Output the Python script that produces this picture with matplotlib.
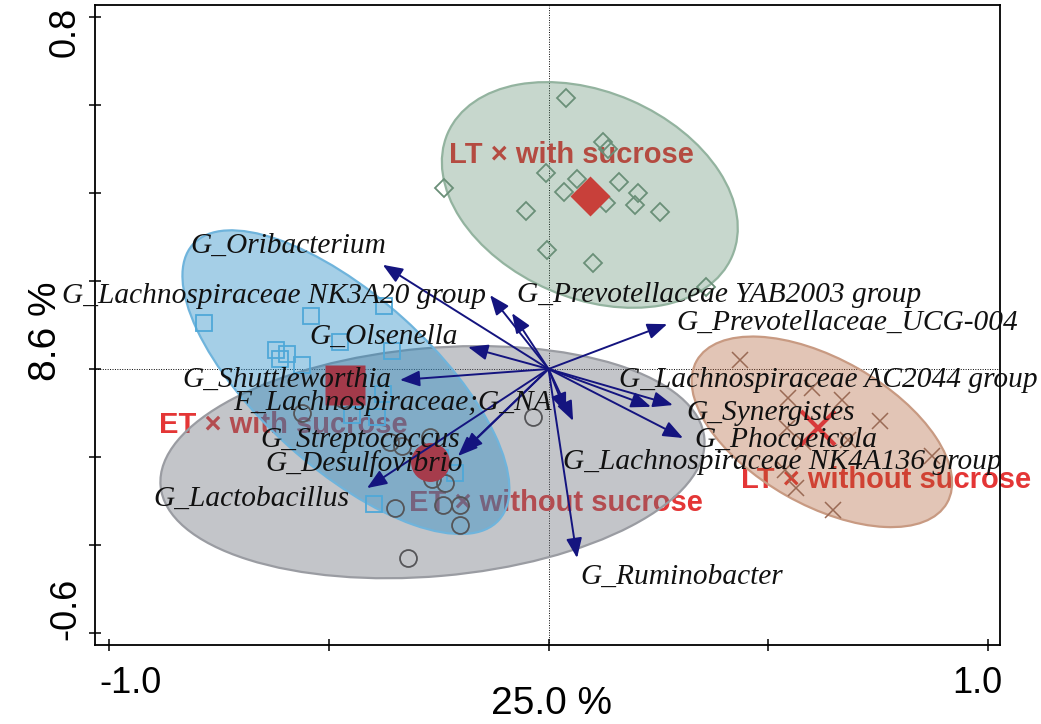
import numpy as np
import matplotlib
matplotlib.use("Agg")
import matplotlib.pyplot as plt
from matplotlib.patches import Ellipse, FancyArrowPatch
import matplotlib.transforms as mtransforms
from matplotlib.colors import to_rgba

plt.rcParams['font.family'] = ['Liberation Sans', 'DejaVu Sans']

# ---------------- data ----------------
# samples (site scores)
lt_with_x = [0.040, 0.124, 0.135, -0.006, -0.238, 0.065, 0.035, 0.160, 0.204, 0.131, 0.197, 0.254, -0.051, -0.003, 0.101, 0.358]
lt_with_y = [0.617, 0.517, 0.501, 0.446, 0.412, 0.432, 0.403, 0.425, 0.400, 0.378, 0.373, 0.357, 0.359, 0.271, 0.241, 0.187]

et_with_x = [-0.784, -0.540, -0.374, -0.474, -0.356, -0.620, -0.595, -0.611, -0.561, -0.377, -0.447, -0.390, -0.213, -0.397, -0.247]
et_with_y = [0.105, 0.121, 0.143, 0.061, 0.041, 0.043, 0.034, 0.023, 0.009, -0.057, -0.105, -0.109, -0.237, -0.307, -0.203]

et_without_x = [-0.468, -0.561, -0.035, -0.270, -0.361, -0.333, -0.265, -0.235, -0.349, -0.240, -0.201, -0.201, -0.320]
et_without_y = [-0.068, -0.100, -0.109, -0.155, -0.166, -0.175, -0.250, -0.259, -0.316, -0.309, -0.309, -0.355, -0.430]

lt_without_x = [0.436, 0.545, 0.600, 0.668, 0.754, 0.543, 0.579, 0.681, 0.873, 0.538, 0.563, 0.647]
lt_without_y = [0.020, -0.066, -0.043, -0.071, -0.118, -0.134, -0.166, -0.162, -0.198, -0.230, -0.271, -0.321]

# group centroids
group_names = ["LT \u00d7 with sucrose", "ET \u00d7 with sucrose", "ET \u00d7 without sucrose", "LT \u00d7 without sucrose"]
centroid_x = [0.094, -0.463, -0.270, 0.613]
centroid_y = [0.394, -0.036, -0.212, -0.134]

# confidence ellipses (center, full width, full height, angle in degrees)
ell_cx = [0.094, -0.461, -0.264, 0.622]
ell_cy = [0.396, -0.030, -0.212, -0.143]
ell_w = [0.705, 0.937, 1.242, 0.655]
ell_h = [0.469, 0.391, 0.519, 0.332]
ell_angle = [-23.4, -42.0, 5.0, -29.6]

# genus vectors (arrow tips)
species = ["G_Oribacterium", "G_Lachnospiraceae NK3A20 group", "G_Prevotellaceae YAB2003 group",
           "G_Prevotellaceae_UCG-004", "G_Olsenella", "G_Shuttleworthia",
           "G_Lachnospiraceae AC2044 group", "F_Lachnospiraceae;G_NA", "G_Synergistes",
           "G_Streptococcus", "G_Phocaeicola", "G_Desulfovibrio",
           "G_Lachnospiraceae NK4A136 group", "G_Lactobacillus", "G_Ruminobacter"]
arrow_x = [-0.377, -0.133, -0.083, 0.270, -0.183, -0.338, 0.283, 0.040, 0.233, -0.195, 0.306, -0.206, 0.056, -0.413, 0.065]
arrow_y = [0.237, 0.168, 0.127, 0.102, 0.050, -0.025, -0.082, -0.100, -0.086, -0.189, -0.157, -0.198, -0.118, -0.271, -0.430]

# label anchor positions (left edge, vertical centre)
label_x = [-0.816, -1.107, -0.072, 0.292, -0.543, -0.832, 0.160, -0.718, 0.313, -0.656, 0.331, -0.645, 0.033, -0.900, 0.072]
label_y = [0.280, 0.166, 0.168, 0.105, 0.073, -0.025, -0.025, -0.077, -0.100, -0.162, -0.162, -0.214, -0.212, -0.296, -0.473]

group_label_x = [0.052, -0.603, 0.017, 0.768]
group_label_y = [0.487, -0.128, -0.305, -0.253]

x_ticks = [-1.0, -0.5, 0.0, 0.5, 1.0]
y_ticks = [-0.6, -0.4, -0.2, 0.0, 0.2, 0.4, 0.6, 0.8]
x_label = "25.0 %"
y_label = "8.6 %"

# ---------------- styles ----------------
ell_face = [to_rgba('#487d5c', 0.30), to_rgba('#1e87c5', 0.40), to_rgba('#6b6e78', 0.40), to_rgba('#ac592e', 0.35)]
ell_edge = ['#93b39f', '#6fb4dc', '#9a9ca2', '#c89a82']
draw_order = [2, 1, 0, 3]

sample_sets = [
    (lt_with_x, lt_with_y, 'D', 9.2, '#6a8f78'),
    (et_with_x, et_with_y, 's', 11.5, '#4fa8d8'),
    (et_without_x, et_without_y, 'o', 12.2, '#555558'),
    (lt_without_x, lt_without_y, 'x', 11.0, '#9a6a55'),
]
centroid_style = [('D', 20.0, '#c8403a'), ('s', 28.5, '#a33a4a'), ('o', 28.0, '#a63c4c'), ('x', 25.0, '#d83a3a')]

arrow_color = '#14147f'

# ---------------- figure ----------------
W, H = 1041, 724
fig = plt.figure(figsize=(W / 100, H / 100), dpi=100)
ax = fig.add_axes([95 / W, 79 / H, 905 / W, 640 / H])
ax.set_xlim(-1.0319, 1.0273)
ax.set_ylim(-0.628, 0.8282)

# reference lines
ax.axhline(0, color='black', lw=0.7, ls=(0, (1, 1.5)), zorder=0.5)
ax.axvline(0, color='black', lw=0.7, ls=(0, (1, 1.5)), zorder=0.5)

# group labels (drawn under the ellipses)
for name, gx, gy in zip(group_names, group_label_x, group_label_y):
    ax.text(gx, gy, name, color='#e43636', fontsize=21, fontweight='bold',
            ha='center', va='center', zorder=1)

# ellipses
for i in draw_order:
    e = Ellipse((ell_cx[i], ell_cy[i]), ell_w[i], ell_h[i], angle=ell_angle[i],
                facecolor=ell_face[i], edgecolor=ell_edge[i], lw=1.6, zorder=2)
    ax.add_patch(e)

# samples
for xs, ys, mk, ms, col in sample_sets:
    if mk == 'x':
        ax.plot(xs, ys, ls='none', marker=mk, ms=ms, mec=col, mew=1.1, zorder=3)
    else:
        ax.plot(xs, ys, ls='none', marker=mk, ms=ms, mfc='none', mec=col, mew=1.3, zorder=3)

# centroids
for (mk, ms, col), cx, cy in zip(centroid_style, centroid_x, centroid_y):
    if mk == 'x':
        ax.plot([cx], [cy], ls='none', marker=mk, ms=ms, mec=col, mew=3.0, zorder=3.5)
    else:
        ax.plot([cx], [cy], ls='none', marker=mk, ms=ms, mfc=col, mec='none', zorder=3.5)

# vectors
for ex, ey in zip(arrow_x, arrow_y):
    arr = FancyArrowPatch((0, 0), (ex, ey), arrowstyle='-|>,head_length=0.6,head_width=0.24',
                          mutation_scale=20, color=arrow_color, lw=1.4,
                          shrinkA=0, shrinkB=0, zorder=4)
    ax.add_patch(arr)

for name, lx, ly in zip(species, label_x, label_y):
    ax.text(lx, ly, name, fontfamily=['Liberation Serif', 'DejaVu Serif'], style='italic',
            fontsize=21.2, color='#111111', ha='left', va='center', zorder=5, clip_on=False)

# axes styling
for sp in ax.spines.values():
    sp.set_linewidth(1.3)
ax.set_xticks(x_ticks)
ax.set_yticks(y_ticks)
ax.set_xticklabels([])
ax.set_yticklabels([])
ax.tick_params(direction='inout', length=8, width=1.1)

def off(dx_px, dy_px):
    return mtransforms.ScaledTranslation(dx_px / 100, dy_px / 100, fig.dpi_scale_trans)

# x tick labels (kept inside the frame like the original)
ax.text(x_ticks[0], 0, '-1.0', transform=ax.get_xaxis_transform() + off(21, -48),
        ha='center', va='baseline', fontsize=26)
ax.text(x_ticks[-1], 0, '1.0', transform=ax.get_xaxis_transform() + off(-11, -48),
        ha='center', va='baseline', fontsize=26)
# y tick labels
ax.text(0, y_ticks[-1], '0.8', transform=ax.get_yaxis_transform() + off(-20, -15),
        ha='center', va='baseline', rotation=90, rotation_mode='anchor', fontsize=26)
ax.text(0, y_ticks[0], '-0.6', transform=ax.get_yaxis_transform() + off(-20, 24),
        ha='center', va='baseline', rotation=90, rotation_mode='anchor', fontsize=26)

ax.set_xlabel(x_label, fontsize=28, va='baseline')
ax.xaxis.set_label_coords(0.504, -69 / 640)
ax.set_ylabel(y_label, fontsize=28, va='baseline', rotation=90, rotation_mode='anchor')
ax.yaxis.set_label_coords(-39 / 905, 314 / 640)

fig.savefig('out.png', dpi=100)
